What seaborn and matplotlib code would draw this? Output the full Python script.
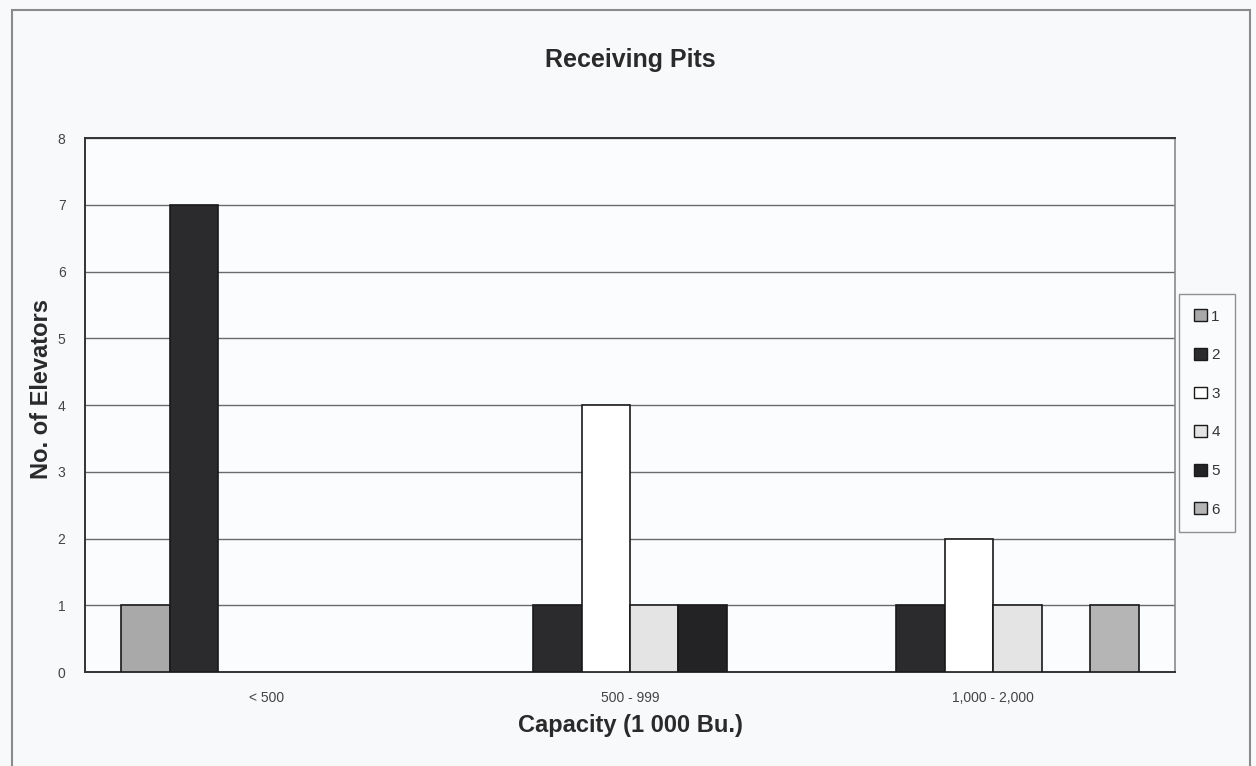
import matplotlib
matplotlib.use("Agg")
import matplotlib.pyplot as plt
import seaborn as sns
import pandas as pd
from matplotlib.patches import Rectangle, Patch

categories = ["< 500", "500 - 999", "1,000 - 2,000"]
series_names = ["1", "2", "3", "4", "5", "6"]
s1 = [1, 0, 0]
s2 = [7, 1, 1]
s3 = [0, 4, 2]
s4 = [0, 1, 1]
s5 = [0, 1, 0]
s6 = [0, 0, 1]
colors = ["#a9a9a9", "#2b2b2d", "#ffffff", "#e4e4e4", "#232325", "#b5b5b5"]

rows = []
for name, vals in zip(series_names, [s1, s2, s3, s4, s5, s6]):
    for cat, v in zip(categories, vals):
        rows.append({"Capacity": cat, "Series": name, "Count": v})
df = pd.DataFrame(rows)

sns.set_theme(style="white")
plt.rcParams["font.family"] = ["Liberation Sans", "DejaVu Sans"]

bg = "#f8f9fb"
fig = plt.figure(figsize=(12.56, 7.66), dpi=100, facecolor=bg)
ax = fig.add_axes([85 / 1256, 1 - 672 / 766, 1090 / 1256, 534 / 766])
ax.set_facecolor("#fbfcfd")

sns.barplot(data=df, x="Capacity", y="Count", hue="Series", order=categories,
            hue_order=series_names, palette=colors, width=0.8,
            edgecolor="#1a1a1a", linewidth=1.2, ax=ax, legend=False, zorder=3)

# empty bars should not leave an outline on the baseline
for p in ax.patches:
    if p.get_height() == 0:
        p.set_linewidth(0)

ax.set_ylim(0, 8)
ax.set_xlim(-0.5, 2.5)
ax.set_yticks(range(0, 9))
ax.yaxis.grid(True, color="#6a6a6a", linewidth=1.0, zorder=0)
ax.set_axisbelow(True)
for side in ["left", "bottom", "top"]:
    ax.spines[side].set_color("#333333")
    ax.spines[side].set_linewidth(1.4)
ax.spines["right"].set_color("#8a8a8a")
ax.spines["right"].set_linewidth(1.2)

ax.tick_params(axis="y", length=0, pad=14, labelsize=10, labelcolor="#444444")
ax.tick_params(axis="x", length=0, pad=14, labelsize=10, labelcolor="#444444")
ax.set_xlabel("Capacity (1 000 Bu.)", fontsize=17, fontweight="bold",
              color="#2a2a2a", labelpad=6)
ax.set_ylabel("No. of Elevators", fontsize=17, fontweight="bold",
              color="#2a2a2a")
ax.yaxis.set_label_coords(-0.029, 0.53)
fig.text(630 / 1256, 1 - 60 / 766, "Receiving Pits", ha="center", va="center",
         fontsize=18, fontweight="bold", color="#2a2a2a")

handles = [Patch(facecolor=c, edgecolor="#1a1a1a", linewidth=1.0) for c in colors]
leg = fig.legend(handles, series_names, loc="center left",
                 bbox_to_anchor=(1176 / 1256, 1 - 413 / 766),
                 frameon=True, fontsize=11, handlelength=0.8, handleheight=0.8,
                 handletextpad=0.3, labelspacing=1.6, borderpad=1.0,
                 borderaxespad=0.2, fancybox=False)
leg.get_frame().set_edgecolor("#777777")
leg.get_frame().set_linewidth(1.0)
leg.get_frame().set_facecolor("#fbfcfd")
for t in leg.get_texts():
    t.set_color("#333333")

border = Rectangle((12 / 1256, -0.01), (1250 - 12) / 1256, 1 - 10 / 766 + 0.01,
                   transform=fig.transFigure, fill=False, edgecolor="#8a8a8a",
                   linewidth=1.5)
fig.patches.append(border)

fig.savefig("out.png", dpi=100, facecolor=bg)
